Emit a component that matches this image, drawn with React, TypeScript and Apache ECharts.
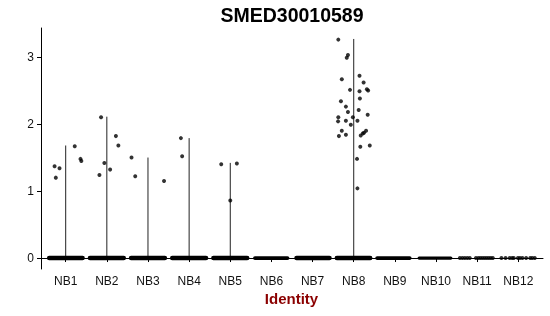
import React, { useEffect, useRef } from 'react';
import * as echarts from 'echarts';

const title = 'SMED30010589';
const axisTitle = 'Identity';
const categories = ['NB1', 'NB2', 'NB3', 'NB4', 'NB5', 'NB6', 'NB7', 'NB8', 'NB9', 'NB10', 'NB11', 'NB12'];
const yTicks = [0, 1, 2, 3];
const yMin = -0.1635;
const yMax = 3.4335;

// top of each violin (which is drawn as a thin vertical line)
const violinMax = [1.68, 2.11, 1.5, 1.79, 1.42, 0, 0, 3.27, 0, 0, 0, 0];

// dense zero-value jitter extents per category (offset from category centre)
const zeroBands: [number, number][] = [
  [-0.4, 0.41], [-0.41, 0.41], [-0.41, 0.41], [-0.41, 0.41], [-0.41, 0.41],
  [-0.4, 0.39], [-0.39, 0.41], [-0.41, 0.4], [-0.43, 0.36], [-0.41, 0.36],
];
// sparse zero-value points (offsets)
const nb11Zeros = [-0.42, -0.36, -0.3, -0.24, -0.18, -0.03, 0.03, 0.08, 0.13, 0.18, 0.23, 0.28, 0.33, 0.38];
const nb12Zeros = [-0.41, -0.31, -0.21, -0.15, -0.11, -0.01, 0.04, 0.1, 0.19, 0.29, 0.34, 0.4];

// non-zero points: [offset from centre, value]
const nb1Points = [[-0.27, 1.37], [-0.15, 1.34], [-0.24, 1.2], [0.22, 1.67], [0.36, 1.48], [0.38, 1.45]];
const nb2Points = [[-0.14, 2.1], [0.22, 1.82], [0.28, 1.68], [-0.06, 1.42], [0.08, 1.32], [-0.18, 1.24]];
const nb3Points = [[-0.4, 1.5], [-0.31, 1.22], [0.39, 1.15]];
const nb4Points = [[-0.2, 1.79], [-0.17, 1.52]];
const nb5Points = [[-0.22, 1.4], [0.16, 1.41], [0.0, 0.86]];
const nb8Points = [
  [-0.375, 3.26], [-0.14, 3.03], [-0.17, 2.99], [-0.29, 2.67], [0.14, 2.72], [0.24, 2.62],
  [-0.09, 2.51], [0.14, 2.49], [0.32, 2.52], [0.35, 2.5], [0.15, 2.38], [-0.31, 2.34],
  [-0.19, 2.26], [-0.14, 2.18], [0.12, 2.21], [0.34, 2.14], [-0.375, 2.1], [-0.02, 2.1],
  [-0.38, 2.04], [-0.19, 2.05], [-0.07, 1.99], [0.09, 2.05], [-0.29, 1.9], [-0.36, 1.82],
  [-0.19, 1.84], [0.3, 1.9], [0.25, 1.87], [0.22, 1.86], [0.17, 1.83], [0.16, 1.66],
  [0.39, 1.68], [0.08, 1.48], [0.09, 1.04],
];

// styles (not data)
const bandThickness = [4.6, 4.6, 4.6, 4.6, 4.6, 3.8, 4.6, 4.6, 3.8, 3.2];
const FONT = 'Liberation Sans, Arial, Helvetica, sans-serif';

export default function App() {
  const ref = useRef<HTMLDivElement>(null);
  useEffect(() => {
    if (!ref.current) return;
    const chart = echarts.init(ref.current, undefined, { renderer: 'svg' });

    const groups: [number, number[][]][] = [
      [1, nb1Points], [2, nb2Points], [3, nb3Points], [4, nb4Points], [5, nb5Points], [8, nb8Points],
    ];
    const pointData: number[][] = [];
    groups.forEach(([c, pts]) => pts.forEach(([o, v]) => pointData.push([c + o, v])));
    nb11Zeros.forEach((o) => pointData.push([11 + o, 0]));
    nb12Zeros.forEach((o) => pointData.push([12 + o, 0]));

    const violinData = violinMax
      .map((m, i) => [i + 1, m])
      .filter((d) => d[1] > 0);
    const bandData = zeroBands.map(([lo, hi], i) => [i + 1, lo, hi, i]);
    const catTicks = categories.map((_, i) => i + 1);

    chart.setOption({
      animation: false,
      grid: { left: 41, top: 28, width: 502, height: 241, containLabel: false },
      xAxis: {
        type: 'value',
        min: 0.4,
        max: 12.6,
        splitLine: { show: false },
        axisLine: { show: true, lineStyle: { color: '#000', width: 1 } },
        axisTick: { show: true, customValues: catTicks, length: 4, lineStyle: { color: '#000', width: 1 } },
        axisLabel: {
          customValues: catTicks,
          formatter: (v: number) => categories[Math.round(v) - 1] ?? '',
          color: '#111',
          fontSize: 12,
          fontFamily: FONT,
          margin: 6,
        },
      },
      yAxis: {
        type: 'value',
        min: yMin,
        max: yMax,
        splitLine: { show: false },
        axisLine: { show: true, lineStyle: { color: '#000', width: 1 } },
        axisTick: { show: true, customValues: yTicks, length: 4, lineStyle: { color: '#000', width: 1 } },
        axisLabel: {
          customValues: yTicks,
          color: '#111',
          fontSize: 12,
          fontFamily: FONT,
          margin: 7,
        },
      },
      graphic: [
        {
          type: 'text',
          x: 292,
          y: 15,
          style: {
            text: title,
            fontSize: 19.5,
            fontWeight: 'bold',
            fontFamily: FONT,
            fill: '#000',
            textAlign: 'center',
            textVerticalAlign: 'middle',
          },
        },
        {
          type: 'text',
          x: 291.5,
          y: 298,
          style: {
            text: axisTitle,
            fontSize: 15,
            fontWeight: 'bold',
            fontFamily: FONT,
            fill: '#8B0000',
            textAlign: 'center',
            textVerticalAlign: 'middle',
          },
        },
      ],
      series: [
        {
          type: 'custom',
          data: violinData,
          renderItem: (_p: any, api: any) => {
            const x = api.value(0);
            const top = api.value(1);
            const a = api.coord([x, 0]);
            const b = api.coord([x, top]);
            return {
              type: 'line',
              shape: { x1: a[0], y1: a[1], x2: b[0], y2: b[1] },
              style: { stroke: '#222', lineWidth: 1 },
            };
          },
          z: 1,
        },
        {
          type: 'custom',
          data: bandData,
          renderItem: (_p: any, api: any) => {
            const x = api.value(0);
            const lo = api.value(1);
            const hi = api.value(2);
            const idx = api.value(3);
            const a = api.coord([x + lo, 0]);
            const b = api.coord([x + hi, 0]);
            return {
              type: 'line',
              shape: { x1: a[0], y1: a[1], x2: b[0], y2: b[1] },
              style: { stroke: '#000', lineWidth: bandThickness[idx], lineCap: 'round' },
            };
          },
          z: 2,
        },
        {
          type: 'scatter',
          data: pointData,
          symbol: 'circle',
          symbolSize: 4,
          itemStyle: { color: '#000' },
          z: 3,
        },
      ],
    });
    return () => chart.dispose();
  }, []);
  return <div ref={ref} style={{ position: 'fixed', left: 0, top: 0, width: 550, height: 316 }} />;
}
